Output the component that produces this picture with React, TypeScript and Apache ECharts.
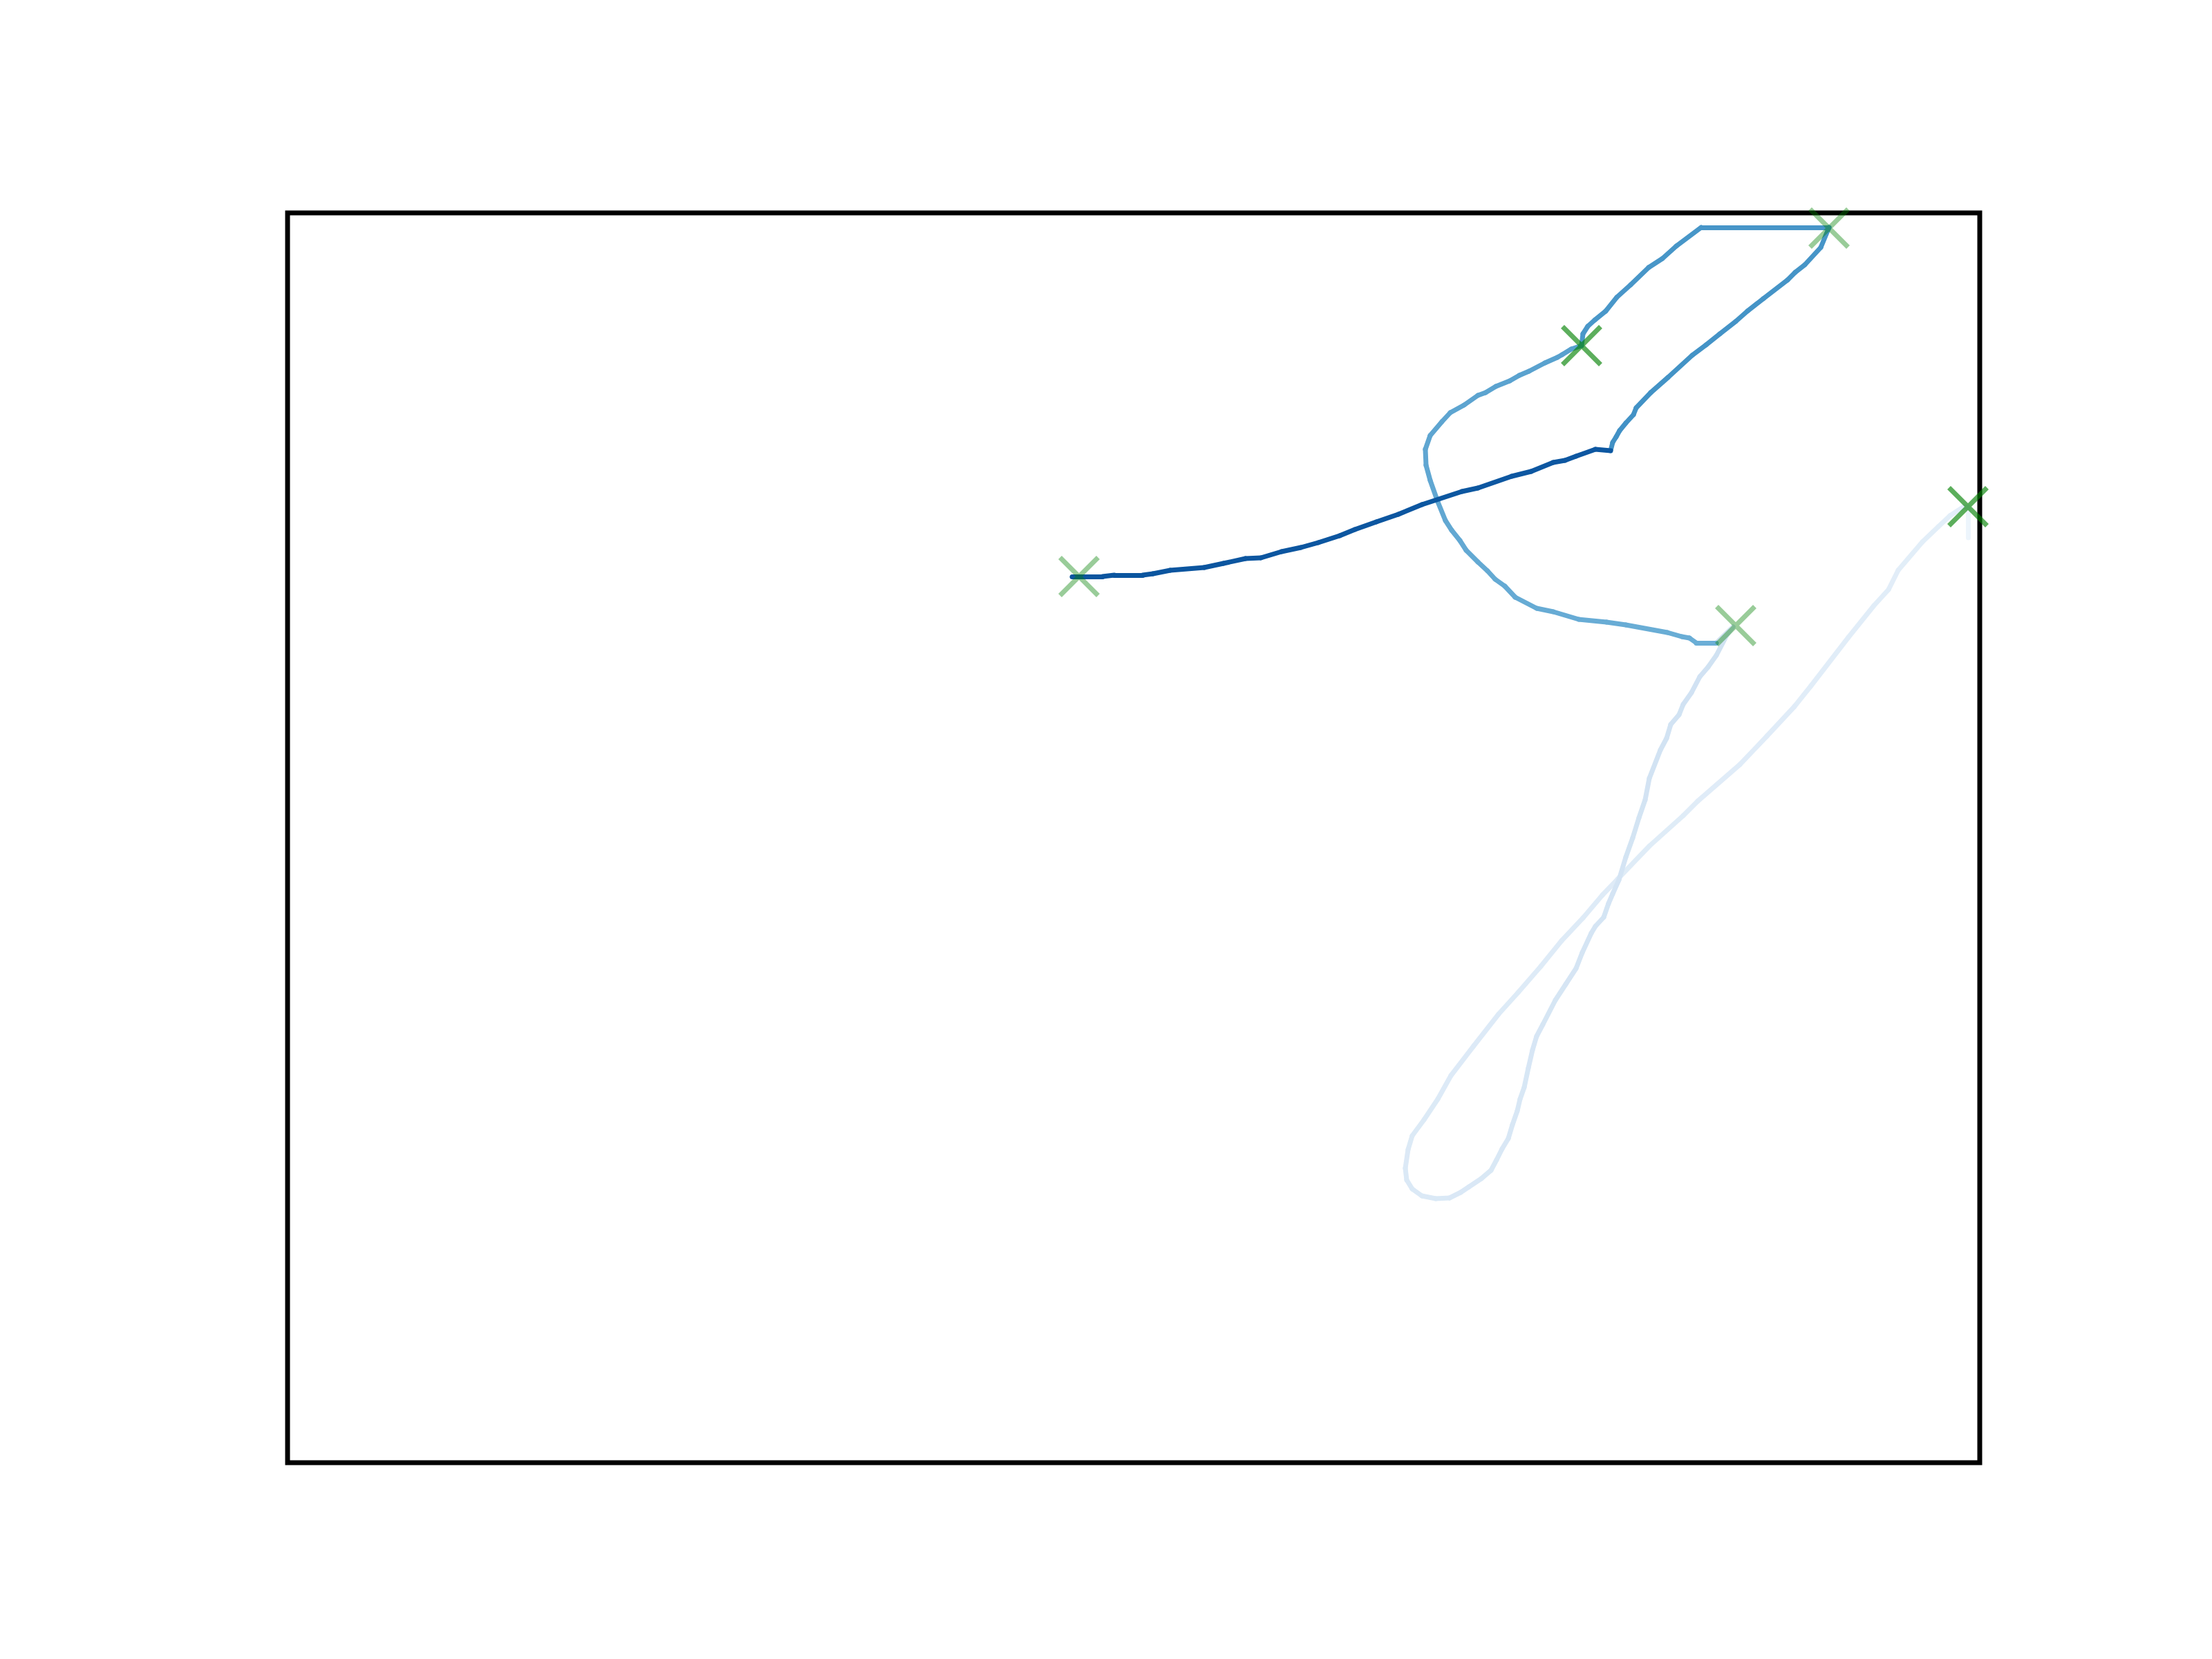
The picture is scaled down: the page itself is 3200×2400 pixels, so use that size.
import React, { useEffect, useRef } from "react";
import * as echarts from "echarts";

// Track legs, in plot units (x to the right, y upwards), in time order.
const legStub: number[][] = [
  [2431, 1338], [2431, 1383],
];
const legLight: number[][] = [
  [2431, 1383], [2425, 1383], [2405, 1370], [2388, 1354], [2365, 1332], [2330, 1291],
  [2316, 1263], [2295, 1240], [2258, 1194], [2204, 1124], [2180, 1094], [2140, 1051],
  [2101, 1010], [2040, 957], [2019, 936], [1970, 892], [1924, 844], [1902, 821],
  [1874, 788], [1843, 755], [1813, 718], [1780, 680], [1752, 649], [1716, 603],
  [1683, 560], [1664, 526], [1644, 496], [1627, 473], [1621, 453], [1617, 426],
  [1619, 409], [1627, 396], [1641, 386], [1661, 382], [1681, 383], [1697, 391],
  [1709, 399], [1727, 411], [1741, 423], [1749, 438], [1757, 454], [1766, 469],
  [1772, 489], [1779, 509], [1783, 526], [1789, 543], [1795, 571], [1801, 597],
  [1807, 617], [1816, 634], [1834, 669], [1849, 692], [1864, 715], [1873, 738],
  [1886, 766], [1892, 776], [1904, 789], [1911, 809], [1917, 823], [1926, 843],
  [1936, 876], [1946, 904], [1955, 933], [1964, 959], [1970, 990], [1986, 1031],
  [1995, 1048], [2001, 1068], [2013, 1082], [2019, 1097], [2031, 1114], [2043, 1137],
  [2055, 1151], [2067, 1168], [2082, 1197], [2091, 1209], [2067, 1186],
];
const legMedium: number[][] = [
  [2067, 1186], [2038, 1186], [2028, 1193], [2017, 1195], [1996, 1201], [1936, 1212],
  [1908, 1216], [1868, 1220], [1831, 1231], [1807, 1236], [1776, 1252], [1761, 1268],
  [1747, 1278], [1736, 1290], [1722, 1303], [1705, 1320], [1696, 1334], [1684, 1349],
  [1675, 1363], [1664, 1390], [1653, 1421], [1647, 1443], [1646, 1466], [1653, 1486],
  [1670, 1506], [1682, 1519], [1702, 1530], [1722, 1544], [1733, 1548], [1748, 1557],
  [1768, 1565], [1782, 1573], [1796, 1579], [1819, 1591], [1837, 1599], [1844, 1603],
  [1857, 1611], [1872, 1616],
];
const legUpper: number[][] = [
  [1872, 1616], [1874, 1633], [1881, 1644], [1891, 1653], [1907, 1666], [1923, 1686],
  [1943, 1704], [1969, 1729], [1989, 1742], [2009, 1760], [2045, 1787], [2230, 1787],
  [2218, 1758], [2195, 1733], [2181, 1722], [2170, 1711], [2135, 1684], [2112, 1666],
  [2095, 1651], [2072, 1633], [2052, 1617], [2032, 1602], [1997, 1570], [1972, 1548],
  [1951, 1526], [1947, 1516], [1936, 1504], [1927, 1493], [1922, 1484], [1917, 1476],
  [1914, 1464],
];
const legDark: number[][] = [
  [1914, 1464], [1892, 1466], [1864, 1456], [1848, 1450], [1831, 1447], [1799, 1434],
  [1771, 1427], [1722, 1410], [1699, 1405], [1641, 1386], [1607, 1372], [1575, 1361],
  [1544, 1350], [1522, 1341], [1491, 1331], [1466, 1324], [1438, 1318], [1408, 1309],
  [1386, 1308], [1354, 1301], [1326, 1295], [1277, 1291], [1252, 1286], [1237, 1284],
  [1196, 1284], [1179, 1282], [1135, 1282],
];
// Colormap position (Blues) at the start and end of each leg
const legShades: number[][] = [
  [0.05, 0.05], [0.1, 0.2], [0.5, 0.56], [0.6, 0.63], [0.85, 0.86],
];

// Waypoint markers
const markerPoints: number[][] = [
  [2431, 1383], [2095, 1211], [1872, 1616], [2230, 1786], [1145, 1282],
];
const markerAlpha: number[] = [0.8, 0.5, 0.8, 0.5, 0.5];

const X_MAX = 2448;
const Y_MAX = 1808;

const BLUES = ["#f7fbff", "#deebf7", "#c6dbef", "#9ecae1", "#6baed6", "#4292c6", "#2171b5", "#08519c", "#08306b"];

function hexToRgb(h: string): number[] {
  return [parseInt(h.slice(1, 3), 16), parseInt(h.slice(3, 5), 16), parseInt(h.slice(5, 7), 16)];
}
function blues(t: number): string {
  const p = Math.max(0, Math.min(1, t)) * (BLUES.length - 1);
  const i = Math.min(BLUES.length - 2, Math.floor(p));
  const f = p - i;
  const a = hexToRgb(BLUES[i]);
  const b = hexToRgb(BLUES[i + 1]);
  const c = a.map((v, k) => Math.round(v + (b[k] - v) * f));
  return `rgb(${c[0]},${c[1]},${c[2]})`;
}

export default function App() {
  const ref = useRef<HTMLDivElement>(null);
  useEffect(() => {
    document.body.style.margin = "0";
    if (!ref.current) return;
    const chart = echarts.init(ref.current, undefined, { renderer: "svg" });

    const legs = [legStub, legLight, legMedium, legUpper, legDark];
    const segs: any[] = [];
    legs.forEach((leg, li) => {
      const [a, b] = legShades[li];
      const n = leg.length - 1;
      for (let i = 0; i < n; i++) {
        const t = n > 1 ? a + ((b - a) * i) / (n - 1) : a;
        segs.push({
          coords: [leg[i], leg[i + 1]],
          lineStyle: { color: blues(t), width: 7, opacity: 1, cap: "round" },
        });
      }
    });

    const markers = markerPoints.map((p, i) => ({
      value: p,
      itemStyle: {
        color: "rgba(0,0,0,0)",
        borderColor: `rgba(0,128,0,${markerAlpha[i]})`,
        borderWidth: 7,
      },
    }));

    chart.setOption({
      animation: false,
      backgroundColor: "#ffffff",
      grid: {
        left: 416,
        top: 308,
        width: 2448,
        height: 1808,
        show: true,
        borderColor: "#000000",
        borderWidth: 7,
        backgroundColor: "transparent",
      },
      xAxis: {
        type: "value",
        min: 0,
        max: X_MAX,
        axisLine: { show: false },
        axisTick: { show: false },
        axisLabel: { show: false },
        splitLine: { show: false },
      },
      yAxis: {
        type: "value",
        min: 0,
        max: Y_MAX,
        axisLine: { show: false },
        axisTick: { show: false },
        axisLabel: { show: false },
        splitLine: { show: false },
      },
      series: [
        {
          type: "lines",
          coordinateSystem: "cartesian2d",
          polyline: false,
          silent: true,
          z: 2,
          data: segs,
        },
        {
          type: "scatter",
          symbol: "path://M0 0L10 10M10 0L0 10",
          symbolSize: 55,
          silent: true,
          z: 3,
          data: markers,
        },
      ],
    });
    return () => chart.dispose();
  }, []);
  return <div ref={ref} style={{ width: 3200, height: 2400 }} />;
}
